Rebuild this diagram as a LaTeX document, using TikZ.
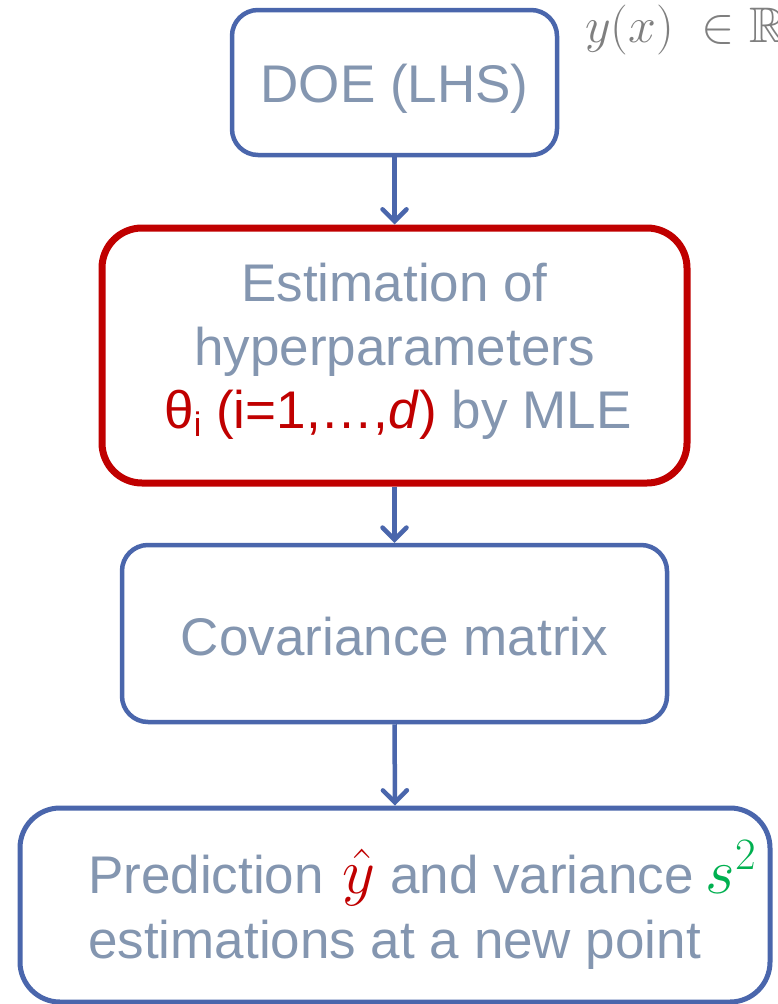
\RequirePackage{fix-cm}
\documentclass[tikz,border=0pt]{standalone}
\usepackage{fontspec}
\usepackage{amssymb}
\setmainfont{Liberation Sans}
\usetikzlibrary{arrows.meta}
\definecolor{flowblue}{HTML}{4A66AC}
\definecolor{flowred}{HTML}{C00000}
\definecolor{flowtext}{HTML}{8496B0}
\definecolor{flowgreen}{HTML}{00B050}
\definecolor{mathgray}{HTML}{7F7F7F}
\tikzset{
  stepbox/.style={draw=flowblue, line width=4.5pt, rounded corners=26pt, inner sep=0pt, fill=white},
  keybox/.style={draw=flowred, line width=7pt, rounded corners=40pt, inner sep=0pt, fill=white},
  label/.style={text=flowtext, inner sep=0pt, anchor=base, font=\fontsize{53}{63}\selectfont},
  flow/.style={draw=flowblue, line width=4.5pt, -{Straight Barb[length=12pt,width=24pt,line width=4.5pt,line cap=round]}}
}
\newcommand{\bigmath}[1]{{\fontsize{64}{64}\selectfont$#1$}}
\begin{document}
\begin{tikzpicture}[x=1pt,y=-1pt]
\useasboundingbox (0,0) rectangle (777,1004);
\clip (0,0) rectangle (777,1004);
\fill[white] (0,0) rectangle (777,1004);

% boxes
\node[stepbox, minimum width=325pt, minimum height=145pt] (doe) at (394.5,82.5) {};
\node[keybox, minimum width=585pt, minimum height=255pt] (mle) at (394.5,355.5) {};
\node[stepbox, minimum width=545pt, minimum height=177pt] (cov) at (394.5,633.5) {};
\node[stepbox, line width=5pt, rounded corners=40pt, minimum width=750pt, minimum height=194pt] (pred) at (395,905) {};

% texts
\node[label] (doetxt) at (394.5,102) {DOE (LHS)};
\node[label] (mle1) at (394.5,301) {Estimation of};
\node[label] (mle2) at (394.5,365) {hyperparameters};
\node[label] (mle3) at (398,428) {\textcolor{flowred}{θ\raisebox{-0.3ex}{\fontsize{34}{34}\selectfont i} (i=1,…,\textit{d})} by MLE};
\node[label] (covtxt) at (394.5,655) {Covariance matrix};
\node[label, anchor=base west] (pred1) at (88,893) {Prediction \kern4pt\textcolor{flowred}{\bigmath{\hat{y}}}\ and variance\kern12pt\textcolor{flowgreen}{\bigmath{s^{2}}}};
\node[label, anchor=base west] (pred2) at (88,958) {estimations at a new point};

% output space
\node[anchor=base west, inner sep=0pt, text=mathgray, font=\fontsize{50}{50}\selectfont] (space) at (585,42) {$y(x)\;\in\mathbb{R}$};

% connectors
\draw[flow] (doe.south) -- (mle.north);
\draw[flow] (mle.south) -- (cov.north);
\draw[flow] (cov.south) -- (pred.north);
\end{tikzpicture}
\end{document}
